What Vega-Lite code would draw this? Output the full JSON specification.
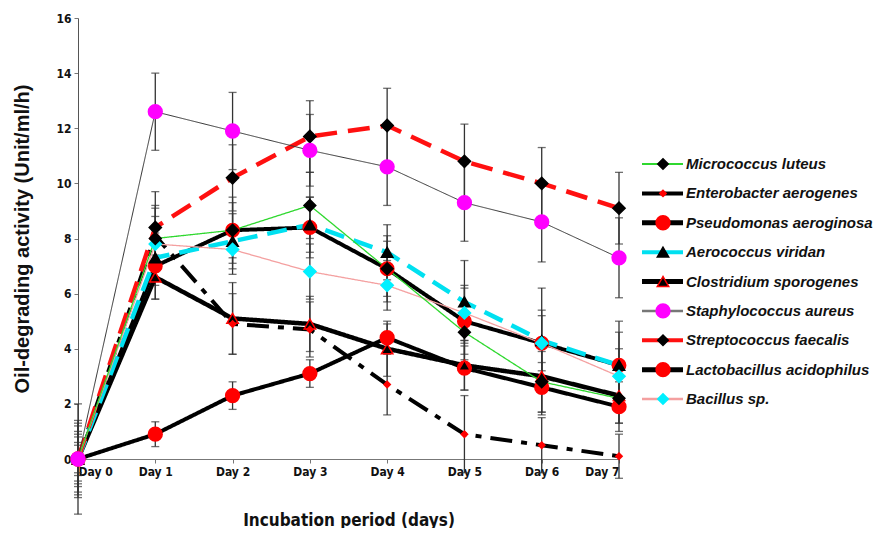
{
  "$schema": "https://vega.github.io/schema/vega-lite/v6.json",
  "background": "white",
  "padding": {"left": 12, "top": 12, "right": 0, "bottom": 0},
  "spacing": 10,
  "config": {"view": {"stroke": null}},
  "resolve": {"scale": {"stroke": "independent", "strokeWidth": "independent", "strokeDash": "independent", "size": "independent", "fill": "independent", "shape": "independent", "x": "independent", "y": "independent"}},
  "datasets": {
    "obs": [
      {"series": "Lactobacillus acidophilus", "day": 0, "value": 0, "err": 0.5},
      {"series": "Lactobacillus acidophilus", "day": 1, "value": 0.9, "err": 0.45},
      {"series": "Lactobacillus acidophilus", "day": 2, "value": 2.3, "err": 0.5},
      {"series": "Lactobacillus acidophilus", "day": 3, "value": 3.1, "err": 0.5},
      {"series": "Lactobacillus acidophilus", "day": 4, "value": 4.4, "err": 0.5},
      {"series": "Lactobacillus acidophilus", "day": 5, "value": 3.3, "err": 0.8},
      {"series": "Lactobacillus acidophilus", "day": 6, "value": 2.6, "err": 0.9},
      {"series": "Lactobacillus acidophilus", "day": 7, "value": 1.9, "err": 0.9},
      {"series": "Clostridium sporogenes", "day": 0, "value": 0, "err": 0.6},
      {"series": "Clostridium sporogenes", "day": 1, "value": 6.6, "err": 0.8},
      {"series": "Clostridium sporogenes", "day": 2, "value": 5.1, "err": 1.3},
      {"series": "Clostridium sporogenes", "day": 3, "value": 4.9, "err": 1.0},
      {"series": "Clostridium sporogenes", "day": 4, "value": 4.0, "err": 1.0},
      {"series": "Clostridium sporogenes", "day": 5, "value": 3.4, "err": 0.9},
      {"series": "Clostridium sporogenes", "day": 6, "value": 3.0, "err": 1.4},
      {"series": "Clostridium sporogenes", "day": 7, "value": 2.3, "err": 1.0},
      {"series": "Pseudomonas aeroginosa", "day": 0, "value": 0, "err": 1.2},
      {"series": "Pseudomonas aeroginosa", "day": 1, "value": 7.0, "err": 1.2},
      {"series": "Pseudomonas aeroginosa", "day": 2, "value": 8.3, "err": 1.2},
      {"series": "Pseudomonas aeroginosa", "day": 3, "value": 8.4, "err": 1.1},
      {"series": "Pseudomonas aeroginosa", "day": 4, "value": 6.9, "err": 1.2},
      {"series": "Pseudomonas aeroginosa", "day": 5, "value": 5.0, "err": 1.2},
      {"series": "Pseudomonas aeroginosa", "day": 6, "value": 4.2, "err": 1.0},
      {"series": "Pseudomonas aeroginosa", "day": 7, "value": 3.4, "err": 1.6},
      {"series": "Enterobacter aerogenes", "day": 0, "value": 0, "err": 2.0},
      {"series": "Enterobacter aerogenes", "day": 1, "value": 8.1, "err": 1.0},
      {"series": "Enterobacter aerogenes", "day": 2, "value": 4.9, "err": 1.1},
      {"series": "Enterobacter aerogenes", "day": 3, "value": 4.7, "err": 1.0},
      {"series": "Enterobacter aerogenes", "day": 4, "value": 2.7, "err": 1.1},
      {"series": "Enterobacter aerogenes", "day": 5, "value": 0.9, "err": 1.4},
      {"series": "Enterobacter aerogenes", "day": 6, "value": 0.5, "err": 1.0},
      {"series": "Enterobacter aerogenes", "day": 7, "value": 0.1, "err": 0.8},
      {"series": "Aerococcus viridan", "day": 0, "value": 0, "err": 0.9},
      {"series": "Aerococcus viridan", "day": 1, "value": 7.3, "err": 1.0},
      {"series": "Aerococcus viridan", "day": 2, "value": 7.9, "err": 1.0},
      {"series": "Aerococcus viridan", "day": 3, "value": 8.5, "err": 1.0},
      {"series": "Aerococcus viridan", "day": 4, "value": 7.5, "err": 1.0},
      {"series": "Aerococcus viridan", "day": 5, "value": 5.7, "err": 1.5},
      {"series": "Aerococcus viridan", "day": 6, "value": 4.3, "err": 1.9},
      {"series": "Aerococcus viridan", "day": 7, "value": 3.4, "err": 1.2},
      {"series": "Streptococcus faecalis", "day": 0, "value": 0, "err": 1.3},
      {"series": "Streptococcus faecalis", "day": 1, "value": 8.4, "err": 1.3},
      {"series": "Streptococcus faecalis", "day": 2, "value": 10.2, "err": 1.2},
      {"series": "Streptococcus faecalis", "day": 3, "value": 11.7, "err": 1.3},
      {"series": "Streptococcus faecalis", "day": 4, "value": 12.1, "err": 1.35},
      {"series": "Streptococcus faecalis", "day": 5, "value": 10.8, "err": 1.35},
      {"series": "Streptococcus faecalis", "day": 6, "value": 10.0, "err": 1.3},
      {"series": "Streptococcus faecalis", "day": 7, "value": 9.1, "err": 1.3},
      {"series": "Bacillus sp.", "day": 0, "value": 0, "err": 0.8},
      {"series": "Bacillus sp.", "day": 1, "value": 7.8, "err": 1.0},
      {"series": "Bacillus sp.", "day": 2, "value": 7.6, "err": 0.9},
      {"series": "Bacillus sp.", "day": 3, "value": 6.8, "err": 1.0},
      {"series": "Bacillus sp.", "day": 4, "value": 6.3, "err": 0.9},
      {"series": "Bacillus sp.", "day": 5, "value": 5.3, "err": 1.0},
      {"series": "Bacillus sp.", "day": 6, "value": 4.2, "err": 1.2},
      {"series": "Bacillus sp.", "day": 7, "value": 3.0, "err": 1.0},
      {"series": "Micrococcus luteus", "day": 0, "value": 0, "err": 1.4},
      {"series": "Micrococcus luteus", "day": 1, "value": 8.0, "err": 1.2},
      {"series": "Micrococcus luteus", "day": 2, "value": 8.3, "err": 1.0},
      {"series": "Micrococcus luteus", "day": 3, "value": 9.2, "err": 1.2},
      {"series": "Micrococcus luteus", "day": 4, "value": 6.9, "err": 1.0},
      {"series": "Micrococcus luteus", "day": 5, "value": 4.6, "err": 1.0},
      {"series": "Micrococcus luteus", "day": 6, "value": 2.8, "err": 1.1},
      {"series": "Micrococcus luteus", "day": 7, "value": 2.2, "err": 0.9},
      {"series": "Staphylococcus aureus", "day": 0, "value": 0, "err": 1.0},
      {"series": "Staphylococcus aureus", "day": 1, "value": 12.6, "err": 1.4},
      {"series": "Staphylococcus aureus", "day": 2, "value": 11.9, "err": 1.4},
      {"series": "Staphylococcus aureus", "day": 3, "value": 11.2, "err": 1.3},
      {"series": "Staphylococcus aureus", "day": 4, "value": 10.6, "err": 1.4},
      {"series": "Staphylococcus aureus", "day": 5, "value": 9.3, "err": 1.4},
      {"series": "Staphylococcus aureus", "day": 6, "value": 8.6, "err": 1.45},
      {"series": "Staphylococcus aureus", "day": 7, "value": 7.3, "err": 1.45}
    ],
    "legend": [
      {"series": "Micrococcus luteus"},
      {"series": "Enterobacter aerogenes"},
      {"series": "Pseudomonas aeroginosa"},
      {"series": "Aerococcus viridan"},
      {"series": "Clostridium sporogenes"},
      {"series": "Staphylococcus aureus"},
      {"series": "Streptococcus faecalis"},
      {"series": "Lactobacillus acidophilus"},
      {"series": "Bacillus sp."}
    ]
  },
  "hconcat": [
    {
      "width": 541,
      "height": 441,
      "data": {"name": "obs"},
      "encoding": {
        "x": {
          "field": "day", "type": "quantitative",
          "scale": {"domain": [0, 7], "nice": false},
          "axis": {
            "values": [0, 1, 2, 3, 4, 5, 6, 7],
            "labelExpr": "'Day ' + datum.value",
            "grid": false, "tickSize": 4, "labelPadding": 3,
            "domainColor": "#777", "tickColor": "#777",
            "labelFont": "Liberation Sans Narrow, DejaVu Sans Condensed, Liberation Sans, sans-serif", "labelFontWeight": "bold", "labelFontSize": 12, "labelColor": "#111",
            "title": "Incubation period (days)",
            "titleFont": "Liberation Sans Narrow, DejaVu Sans Condensed, Liberation Sans, sans-serif", "titleFontWeight": "bold", "titleFontSize": 17, "titleColor": "#111",
            "titlePadding": 35
          }
        },
        "y": {
          "field": "value", "type": "quantitative",
          "scale": {"domain": [0, 16], "nice": false},
          "axis": {
            "values": [0, 2, 4, 6, 8, 10, 12, 14, 16],
            "grid": false, "tickSize": 4, "labelPadding": 3,
            "domainColor": "#555", "tickColor": "#777",
            "labelFont": "Liberation Sans Narrow, DejaVu Sans Condensed, Liberation Sans, sans-serif", "labelFontWeight": "bold", "labelFontSize": 12, "labelColor": "#111",
            "title": "Oil-degrading activity (Unit/ml/h)",
            "titleFont": "Liberation Sans, Arial, sans-serif", "titleFontWeight": "bold", "titleFontSize": 20, "titleColor": "#111",
            "titlePadding": 23
          }
        }
      },
      "layer": [
        {
          "mark": {"type": "errorbar", "color": "#333", "thickness": 1.3, "ticks": {"size": 8, "color": "#333"}},
          "encoding": {"yError": {"field": "err"}}
        },
        {
          "mark": {"type": "line", "strokeCap": "butt"},
          "encoding": {
            "detail": {"field": "series"},
            "stroke": {
              "field": "series", "legend": null,
              "scale": {
                "domain": ["Micrococcus luteus", "Enterobacter aerogenes", "Pseudomonas aeroginosa", "Aerococcus viridan", "Clostridium sporogenes", "Staphylococcus aureus", "Streptococcus faecalis", "Lactobacillus acidophilus", "Bacillus sp."],
                "range": ["#2fd82f", "#000000", "#000000", "#00e0f0", "#000000", "#333333", "#ff1010", "#000000", "#f4a0a0"]
              }
            },
            "strokeDash": {
              "field": "series", "legend": null,
              "scale": {
                "type": "ordinal",
                "domain": ["Micrococcus luteus", "Enterobacter aerogenes", "Pseudomonas aeroginosa", "Aerococcus viridan", "Clostridium sporogenes", "Staphylococcus aureus", "Streptococcus faecalis", "Lactobacillus acidophilus", "Bacillus sp."],
                "range": [[1, 0], [22, 9, 6, 9], [1, 0], [20, 10], [1, 0], [1, 0], [22, 11], [1, 0], [1, 0]]
              }
            },
            "strokeWidth": {
              "field": "series", "legend": null,
              "scale": {
                "type": "ordinal",
                "domain": ["Micrococcus luteus", "Enterobacter aerogenes", "Pseudomonas aeroginosa", "Aerococcus viridan", "Clostridium sporogenes", "Staphylococcus aureus", "Streptococcus faecalis", "Lactobacillus acidophilus", "Bacillus sp."],
                "range": [1.3, 4, 4, 4.5, 4.5, 1, 4.5, 4, 1.3]
              }
            }
          }
        },
        {
          "mark": {"type": "point", "opacity": 1, "fillOpacity": 1, "strokeWidth": 1.5},
          "encoding": {
            "shape": {
              "field": "series", "legend": null,
              "scale": {
                "domain": ["Micrococcus luteus", "Enterobacter aerogenes", "Pseudomonas aeroginosa", "Aerococcus viridan", "Clostridium sporogenes", "Staphylococcus aureus", "Streptococcus faecalis", "Lactobacillus acidophilus", "Bacillus sp."],
                "range": ["diamond", "diamond", "circle", "triangle-up", "triangle-up", "circle", "diamond", "circle", "diamond"]
              }
            },
            "fill": {
              "field": "series", "legend": null,
              "scale": {
                "domain": ["Micrococcus luteus", "Enterobacter aerogenes", "Pseudomonas aeroginosa", "Aerococcus viridan", "Clostridium sporogenes", "Staphylococcus aureus", "Streptococcus faecalis", "Lactobacillus acidophilus", "Bacillus sp."],
                "range": ["#000000", "#ff0000", "#ff0000", "#000000", "#000000", "#ff00ff", "#000000", "#ff0000", "#00f0ff"]
              }
            },
            "stroke": {
              "field": "series", "legend": null,
              "scale": {
                "domain": ["Micrococcus luteus", "Enterobacter aerogenes", "Pseudomonas aeroginosa", "Aerococcus viridan", "Clostridium sporogenes", "Staphylococcus aureus", "Streptococcus faecalis", "Lactobacillus acidophilus", "Bacillus sp."],
                "range": ["#000000", "#ff0000", "#ff0000", "#000000", "#ff0000", "#ff00ff", "#000000", "#ff0000", "#00f0ff"]
              }
            },
            "size": {
              "field": "series", "legend": null,
              "scale": {
                "type": "ordinal",
                "domain": ["Micrococcus luteus", "Enterobacter aerogenes", "Pseudomonas aeroginosa", "Aerococcus viridan", "Clostridium sporogenes", "Staphylococcus aureus", "Streptococcus faecalis", "Lactobacillus acidophilus", "Bacillus sp."],
                "range": [140, 40, 180, 130, 130, 190, 150, 190, 150]
              }
            }
          }
        }
      ],
      "resolve": {"scale": {"stroke": "independent"}}
    },
    {
      "width": 238,
      "height": 441,
      "data": {"name": "legend"},
      "encoding": {
        "y": {
          "field": "series", "type": "nominal", "sort": null,
          "scale": {"type": "point", "range": [146, 381], "padding": 0},
          "axis": null
        }
      },
      "layer": [
        {
          "mark": {"type": "rule", "strokeCap": "butt"},
          "encoding": {
            "x": {"datum": 0, "type": "quantitative", "scale": {"domain": [0, 238], "nice": false}, "axis": null},
            "x2": {"datum": 41},
            "stroke": {
              "field": "series", "legend": null,
              "scale": {
                "domain": ["Micrococcus luteus", "Enterobacter aerogenes", "Pseudomonas aeroginosa", "Aerococcus viridan", "Clostridium sporogenes", "Staphylococcus aureus", "Streptococcus faecalis", "Lactobacillus acidophilus", "Bacillus sp."],
                "range": ["#2fd82f", "#000000", "#000000", "#00e0f0", "#000000", "#777777", "#ff1010", "#000000", "#f4a0a0"]
              }
            },
            "strokeWidth": {
              "field": "series", "legend": null,
              "scale": {
                "type": "ordinal",
                "domain": ["Micrococcus luteus", "Enterobacter aerogenes", "Pseudomonas aeroginosa", "Aerococcus viridan", "Clostridium sporogenes", "Staphylococcus aureus", "Streptococcus faecalis", "Lactobacillus acidophilus", "Bacillus sp."],
                "range": [2, 4, 5, 4, 5, 2.5, 4, 5, 2.5]
              }
            }
          }
        },
        {
          "mark": {"type": "point", "opacity": 1, "fillOpacity": 1, "strokeWidth": 1.5},
          "encoding": {
            "x": {"datum": 21, "type": "quantitative"},
            "shape": {
              "field": "series", "legend": null,
              "scale": {
                "domain": ["Micrococcus luteus", "Enterobacter aerogenes", "Pseudomonas aeroginosa", "Aerococcus viridan", "Clostridium sporogenes", "Staphylococcus aureus", "Streptococcus faecalis", "Lactobacillus acidophilus", "Bacillus sp."],
                "range": ["diamond", "diamond", "circle", "triangle-up", "triangle-up", "circle", "diamond", "circle", "diamond"]
              }
            },
            "fill": {
              "field": "series", "legend": null,
              "scale": {
                "domain": ["Micrococcus luteus", "Enterobacter aerogenes", "Pseudomonas aeroginosa", "Aerococcus viridan", "Clostridium sporogenes", "Staphylococcus aureus", "Streptococcus faecalis", "Lactobacillus acidophilus", "Bacillus sp."],
                "range": ["#000000", "#ff0000", "#ff0000", "#000000", "#000000", "#ff00ff", "#000000", "#ff0000", "#00f0ff"]
              }
            },
            "stroke": {
              "field": "series", "legend": null,
              "scale": {
                "domain": ["Micrococcus luteus", "Enterobacter aerogenes", "Pseudomonas aeroginosa", "Aerococcus viridan", "Clostridium sporogenes", "Staphylococcus aureus", "Streptococcus faecalis", "Lactobacillus acidophilus", "Bacillus sp."],
                "range": ["#000000", "#ff0000", "#ff0000", "#000000", "#ff0000", "#ff00ff", "#000000", "#ff0000", "#00f0ff"]
              }
            },
            "size": {
              "field": "series", "legend": null,
              "scale": {
                "type": "ordinal",
                "domain": ["Micrococcus luteus", "Enterobacter aerogenes", "Pseudomonas aeroginosa", "Aerococcus viridan", "Clostridium sporogenes", "Staphylococcus aureus", "Streptococcus faecalis", "Lactobacillus acidophilus", "Bacillus sp."],
                "range": [110, 40, 190, 130, 130, 190, 110, 190, 110]
              }
            }
          }
        },
        {
          "mark": {"type": "text", "align": "left", "baseline": "middle", "font": "Liberation Sans, Arial, sans-serif", "fontWeight": "bold", "fontStyle": "italic", "fontSize": 15, "color": "#111"},
          "encoding": {
            "x": {"datum": 44, "type": "quantitative"},
            "text": {"field": "series"}
          }
        }
      ],
      "resolve": {"scale": {"stroke": "independent"}}
    }
  ]
}
